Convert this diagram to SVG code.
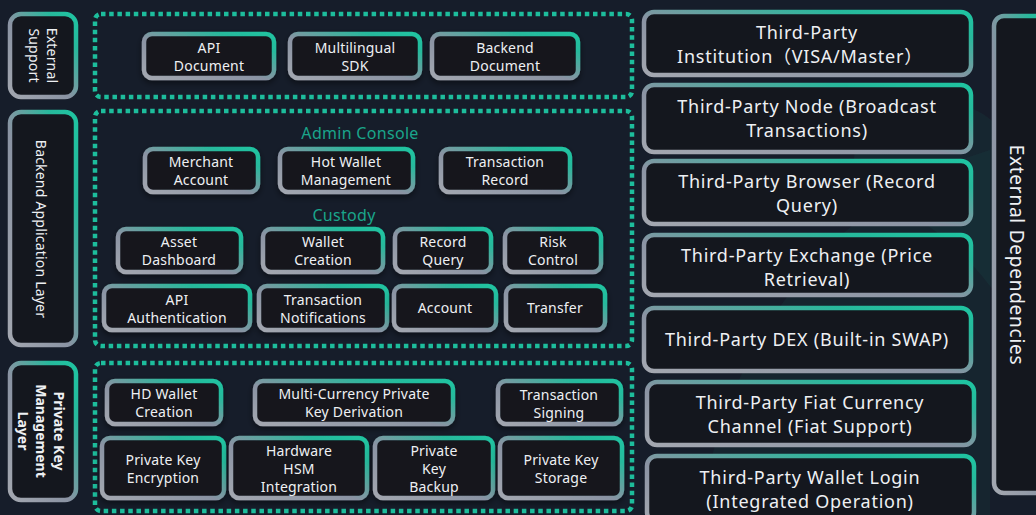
<svg xmlns="http://www.w3.org/2000/svg" width="1036" height="515" viewBox="0 0 1036 515">
<defs>
<linearGradient id="g" x1="0" y1="1" x2="1" y2="0">
<stop offset="0" stop-color="#a3a7b0"/>
<stop offset="0.45" stop-color="#8a93a3"/>
<stop offset="0.8" stop-color="#27b99c"/>
<stop offset="1" stop-color="#1fc4a1"/>
</linearGradient>
<filter id="sh" x="-20%" y="-20%" width="140%" height="150%">
<feDropShadow dx="0" dy="3" stdDeviation="3" flood-color="#000" flood-opacity="0.45"/>
</filter>
<style>
.n{fill:#14171e;stroke:url(#g);stroke-width:4.5;filter:url(#sh)}
.l{fill:#14171e;stroke:url(#g);stroke-width:4.5}
.c{fill:none;stroke:#1dbd9c;stroke-width:4.5;stroke-dasharray:4.5 3.7}
.t{font-family:"Noto Sans","Noto Sans CJK SC",sans-serif;fill:#eef0f3;font-size:14px;letter-spacing:0.2px;text-anchor:middle;dominant-baseline:central}
.r{font-size:18px;letter-spacing:0.75px}
.h{fill:#1aa58a;font-size:16px;letter-spacing:0.3px}
.b{font-weight:bold;letter-spacing:0}
.x{font-size:19px;letter-spacing:0.75px}
</style>
</defs>
<rect width="1036" height="515" fill="#161d2a"/>
<path d="M700 515 C720 380 790 250 930 170 L990 150 L990 515 Z" fill="#1fbf9f" opacity="0.05"/>
<path d="M860 110 C920 90 980 100 1000 130 L1000 300 C960 240 900 200 850 190 Z" fill="#1fbf9f" opacity="0.06"/>

<g id="containers">
<rect class="c" x="95" y="14" width="537" height="83" rx="6"/>
<rect class="c" x="95" y="111" width="537" height="235" rx="6"/>
<rect class="c" x="95" y="363" width="537" height="148" rx="6"/>
</g>

<g id="layer-external-support">
<rect class="l" x="10" y="14" width="66" height="83" rx="11"/>
<g transform="translate(43,55.5) rotate(90)"><text class="t" x="0" y="-9">External</text><text class="t" x="0" y="9">Support</text></g>
</g>
<g id="layer-backend">
<rect class="l" x="10" y="112" width="66" height="233" rx="11"/>
<g transform="translate(41,229) rotate(90)"><text class="t" x="0" y="0">Backend Application Layer</text></g>
</g>
<g id="layer-private-key">
<rect class="l" x="10" y="363" width="66" height="137" rx="11"/>
<g transform="translate(41,431) rotate(90)"><text class="t b" x="0" y="-18">Private Key</text><text class="t b" x="0" y="0">Management</text><text class="t b" x="0" y="18">Layer</text></g>
</g>

<g id="api-document"><rect class="n" x="144" y="34" width="130" height="44" rx="8"/><text class="t" x="209" y="47">API</text><text class="t" x="209" y="65">Document</text></g>
<g id="multilingual-sdk"><rect class="n" x="290" y="34" width="130" height="44" rx="8"/><text class="t" x="355" y="47">Multilingual</text><text class="t" x="355" y="65">SDK</text></g>
<g id="backend-document"><rect class="n" x="432" y="34" width="146" height="44" rx="8"/><text class="t" x="505" y="47">Backend</text><text class="t" x="505" y="65">Document</text></g>

<text id="admin-console" class="t h" x="360" y="133">Admin Console</text>
<g id="merchant-account"><rect class="n" x="145" y="149" width="113" height="43" rx="8"/><text class="t" x="201" y="161">Merchant</text><text class="t" x="201" y="179">Account</text></g>
<g id="hot-wallet"><rect class="n" x="280" y="149" width="133" height="43" rx="8"/><text class="t" x="346" y="161">Hot Wallet</text><text class="t" x="346" y="179">Management</text></g>
<g id="transaction-record"><rect class="n" x="441" y="149" width="129" height="43" rx="8"/><text class="t" x="505" y="161">Transaction</text><text class="t" x="505" y="179">Record</text></g>

<text id="custody" class="t h" x="344" y="215">Custody</text>
<g id="asset-dashboard"><rect class="n" x="118" y="229" width="123" height="43" rx="8"/><text class="t" x="179" y="241">Asset</text><text class="t" x="179" y="259">Dashboard</text></g>
<g id="wallet-creation"><rect class="n" x="263" y="229" width="120" height="43" rx="8"/><text class="t" x="323" y="241">Wallet</text><text class="t" x="323" y="259">Creation</text></g>
<g id="record-query"><rect class="n" x="395" y="229" width="96" height="43" rx="8"/><text class="t" x="443" y="241">Record</text><text class="t" x="443" y="259">Query</text></g>
<g id="risk-control"><rect class="n" x="505" y="229" width="96" height="43" rx="8"/><text class="t" x="553" y="241">Risk</text><text class="t" x="553" y="259">Control</text></g>

<g id="api-authentication"><rect class="n" x="104" y="286" width="146" height="44" rx="8"/><text class="t" x="177" y="299">API</text><text class="t" x="177" y="317">Authentication</text></g>
<g id="transaction-notifications"><rect class="n" x="259" y="286" width="128" height="44" rx="8"/><text class="t" x="323" y="299">Transaction</text><text class="t" x="323" y="317">Notifications</text></g>
<g id="account"><rect class="n" x="394" y="286" width="102" height="44" rx="8"/><text class="t" x="445" y="307">Account</text></g>
<g id="transfer"><rect class="n" x="506" y="286" width="99" height="44" rx="8"/><text class="t" x="555" y="307">Transfer</text></g>

<g id="hd-wallet-creation"><rect class="n" x="107" y="381" width="114" height="43" rx="8"/><text class="t" x="164" y="393">HD Wallet</text><text class="t" x="164" y="411">Creation</text></g>
<g id="multi-currency"><rect class="n" x="255" y="381" width="198" height="43" rx="8"/><text class="t" x="354" y="393">Multi-Currency Private</text><text class="t" x="354" y="411">Key Derivation</text></g>
<g id="transaction-signing"><rect class="n" x="498" y="381" width="123" height="43" rx="8"/><text class="t" x="559" y="394">Transaction</text><text class="t" x="559" y="412">Signing</text></g>

<g id="private-key-encryption"><rect class="n" x="102" y="438" width="122" height="60" rx="8"/><text class="t" x="163" y="459">Private Key</text><text class="t" x="163" y="477">Encryption</text></g>
<g id="hardware-hsm"><rect class="n" x="231" y="438" width="136" height="60" rx="8"/><text class="t" x="299" y="450">Hardware</text><text class="t" x="299" y="468">HSM</text><text class="t" x="299" y="486">Integration</text></g>
<g id="private-key-backup"><rect class="n" x="375" y="438" width="118" height="60" rx="8"/><text class="t" x="434" y="450">Private</text><text class="t" x="434" y="468">Key</text><text class="t" x="434" y="486">Backup</text></g>
<g id="private-key-storage"><rect class="n" x="500" y="438" width="122" height="60" rx="8"/><text class="t" x="561" y="459">Private Key</text><text class="t" x="561" y="477">Storage</text></g>

<g id="ext-institution"><rect class="l" x="644" y="12" width="327" height="63" rx="10"/><text class="t r" x="807" y="32">Third-Party</text><text class="t r" x="800" y="56">Institution（VISA/Master）</text></g>
<g id="ext-node"><rect class="l" x="644" y="85" width="327" height="67" rx="10"/><text class="t r" x="807" y="106">Third-Party Node (Broadcast</text><text class="t r" x="807" y="130">Transactions)</text></g>
<g id="ext-browser"><rect class="l" x="644" y="161" width="327" height="63" rx="10"/><text class="t r" x="807" y="181">Third-Party Browser (Record</text><text class="t r" x="807" y="205">Query)</text></g>
<g id="ext-exchange"><rect class="l" x="644" y="235" width="327" height="60" rx="10"/><text class="t r" x="807" y="255">Third-Party Exchange (Price</text><text class="t r" x="807" y="279">Retrieval)</text></g>
<g id="ext-dex"><rect class="l" x="644" y="308" width="327" height="63" rx="10"/><text class="t r" x="807" y="339">Third-Party DEX (Built-in SWAP)</text></g>
<g id="ext-fiat"><rect class="l" x="647" y="382" width="327" height="63" rx="10"/><text class="t r" x="810" y="402">Third-Party Fiat Currency</text><text class="t r" x="810" y="426">Channel (Fiat Support)</text></g>
<g id="ext-wallet-login"><rect class="l" x="647" y="456" width="327" height="66" rx="10"/><text class="t r" x="810" y="477">Third-Party Wallet Login</text><text class="t r" x="810" y="501">(Integrated Operation)</text></g>

<g id="external-dependencies"><rect class="l" x="994" y="16" width="60" height="477" rx="10"/><g transform="translate(1017,255) rotate(90)"><text class="t x" x="0" y="0">External Dependencies</text></g></g>
</svg>
